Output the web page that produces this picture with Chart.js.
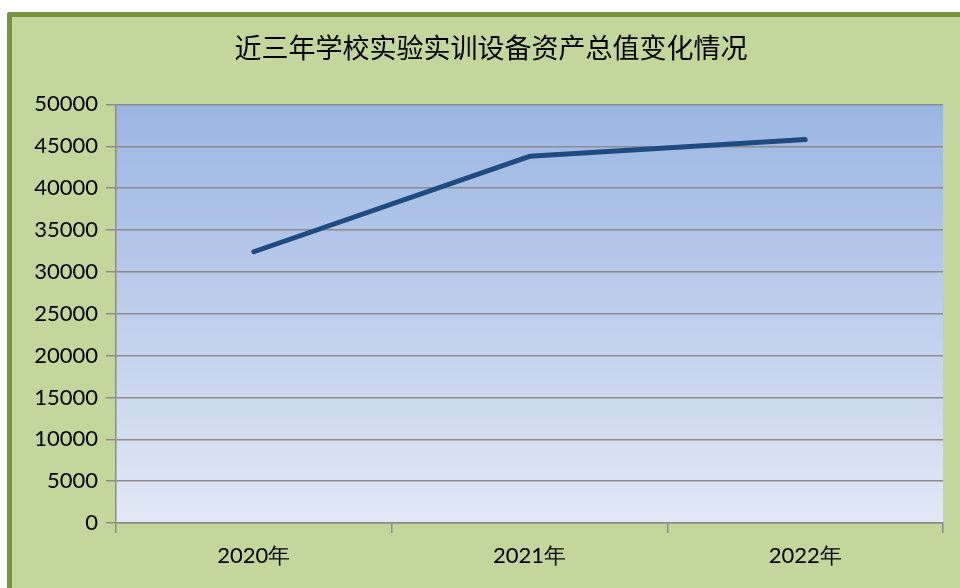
<!DOCTYPE html>
<html>
<head>
<meta charset="utf-8">
<script src="https://cdn.jsdelivr.net/npm/chart.js@4"></script>
<style>
  html, body { margin: 0; padding: 0; background: #fff; overflow: hidden; width: 960px; height: 588px; }
  #frame {
    position: absolute; left: 7px; top: 12px;
    width: 970px; height: 600px;
    background: #c3d69b;
    border-left: 5px solid #77933c;
    border-top: 5px solid #77933c;
    border-top-left-radius: 3px;
  }
  #wrap { position: absolute; left: 0; top: 0; width: 958px; height: 571px; }
</style>
</head>
<body>
<div id="frame">
  <div id="wrap"><canvas id="chart" width="958" height="571"></canvas></div>
</div>
<script>
// 数据
const YEARS = ['2020年', '2021年', '2022年'];
const ASSET_VALUES = [32400, 43800, 45800];
const Y_MIN = 0;
const Y_MAX = 50000;
const Y_STEP = 5000;

// 绘图区渐变背景
const plotBg = {
  id: 'plotBg',
  beforeDraw(chart) {
    const { ctx, chartArea: a } = chart;
    const g = ctx.createLinearGradient(0, a.top, 0, a.bottom);
    g.addColorStop(0, '#9bb5e3');
    g.addColorStop(1, '#e2e8f5');
    ctx.save();
    ctx.fillStyle = g;
    ctx.fillRect(a.left, a.top, a.right - a.left, a.bottom - a.top);
    ctx.restore();
  }
};

const ctx = document.getElementById('chart').getContext('2d');
new Chart(ctx, {
  type: 'line',
  data: {
    labels: YEARS,
    datasets: [{
      label: '资产总值',
      data: ASSET_VALUES,
      borderColor: '#1f4b82',
      borderWidth: 5,
      borderCapStyle: 'round',
      borderJoinStyle: 'round',
      pointRadius: 0,
      tension: 0,
      fill: false
    }]
  },
  options: {
    responsive: false,
    animation: false,
    layout: { padding: 0 },
    scales: {
      x: {
        offset: true,
        grid: { offset: true, drawOnChartArea: false, drawTicks: true, tickLength: 10, color: '#8c8c8c', lineWidth: 1.5 },
        border: { display: true, color: '#8c8c8c', width: 1.5 },
        ticks: { color: '#000', padding: 10, font: { family: 'Lato', size: 22 } },
        afterFit(s) { s.height = 65; }
      },
      y: {
        min: Y_MIN, max: Y_MAX,
        ticks: {
          stepSize: Y_STEP, color: '#000', padding: 8,
          font: { family: 'Lato', size: 22 },
          callback: v => String(v)
        },
        grid: { color: '#8c8c8c', lineWidth: 1.5, tickLength: 10 },
        border: { display: true, color: '#8c8c8c', width: 1.5 },
        afterFit(s) { s.width = 104; }
      },
      // 右侧留白（不显示内容）
      yRight: {
        position: 'right',
        display: true,
        ticks: { display: false },
        grid: { display: false },
        border: { display: false },
        afterFit(s) { s.width = 27; }
      }
    },
    plugins: {
      legend: { display: false },
      tooltip: { enabled: false },
      title: {
        display: true,
        text: '近三年学校实验实训设备资产总值变化情况',
        color: '#000',
        font: { family: 'Noto Sans CJK SC', size: 27, weight: 'normal' },
        padding: { top: 15, bottom: 40 }
      }
    }
  },
  plugins: [plotBg]
});
</script>
</body>
</html>
